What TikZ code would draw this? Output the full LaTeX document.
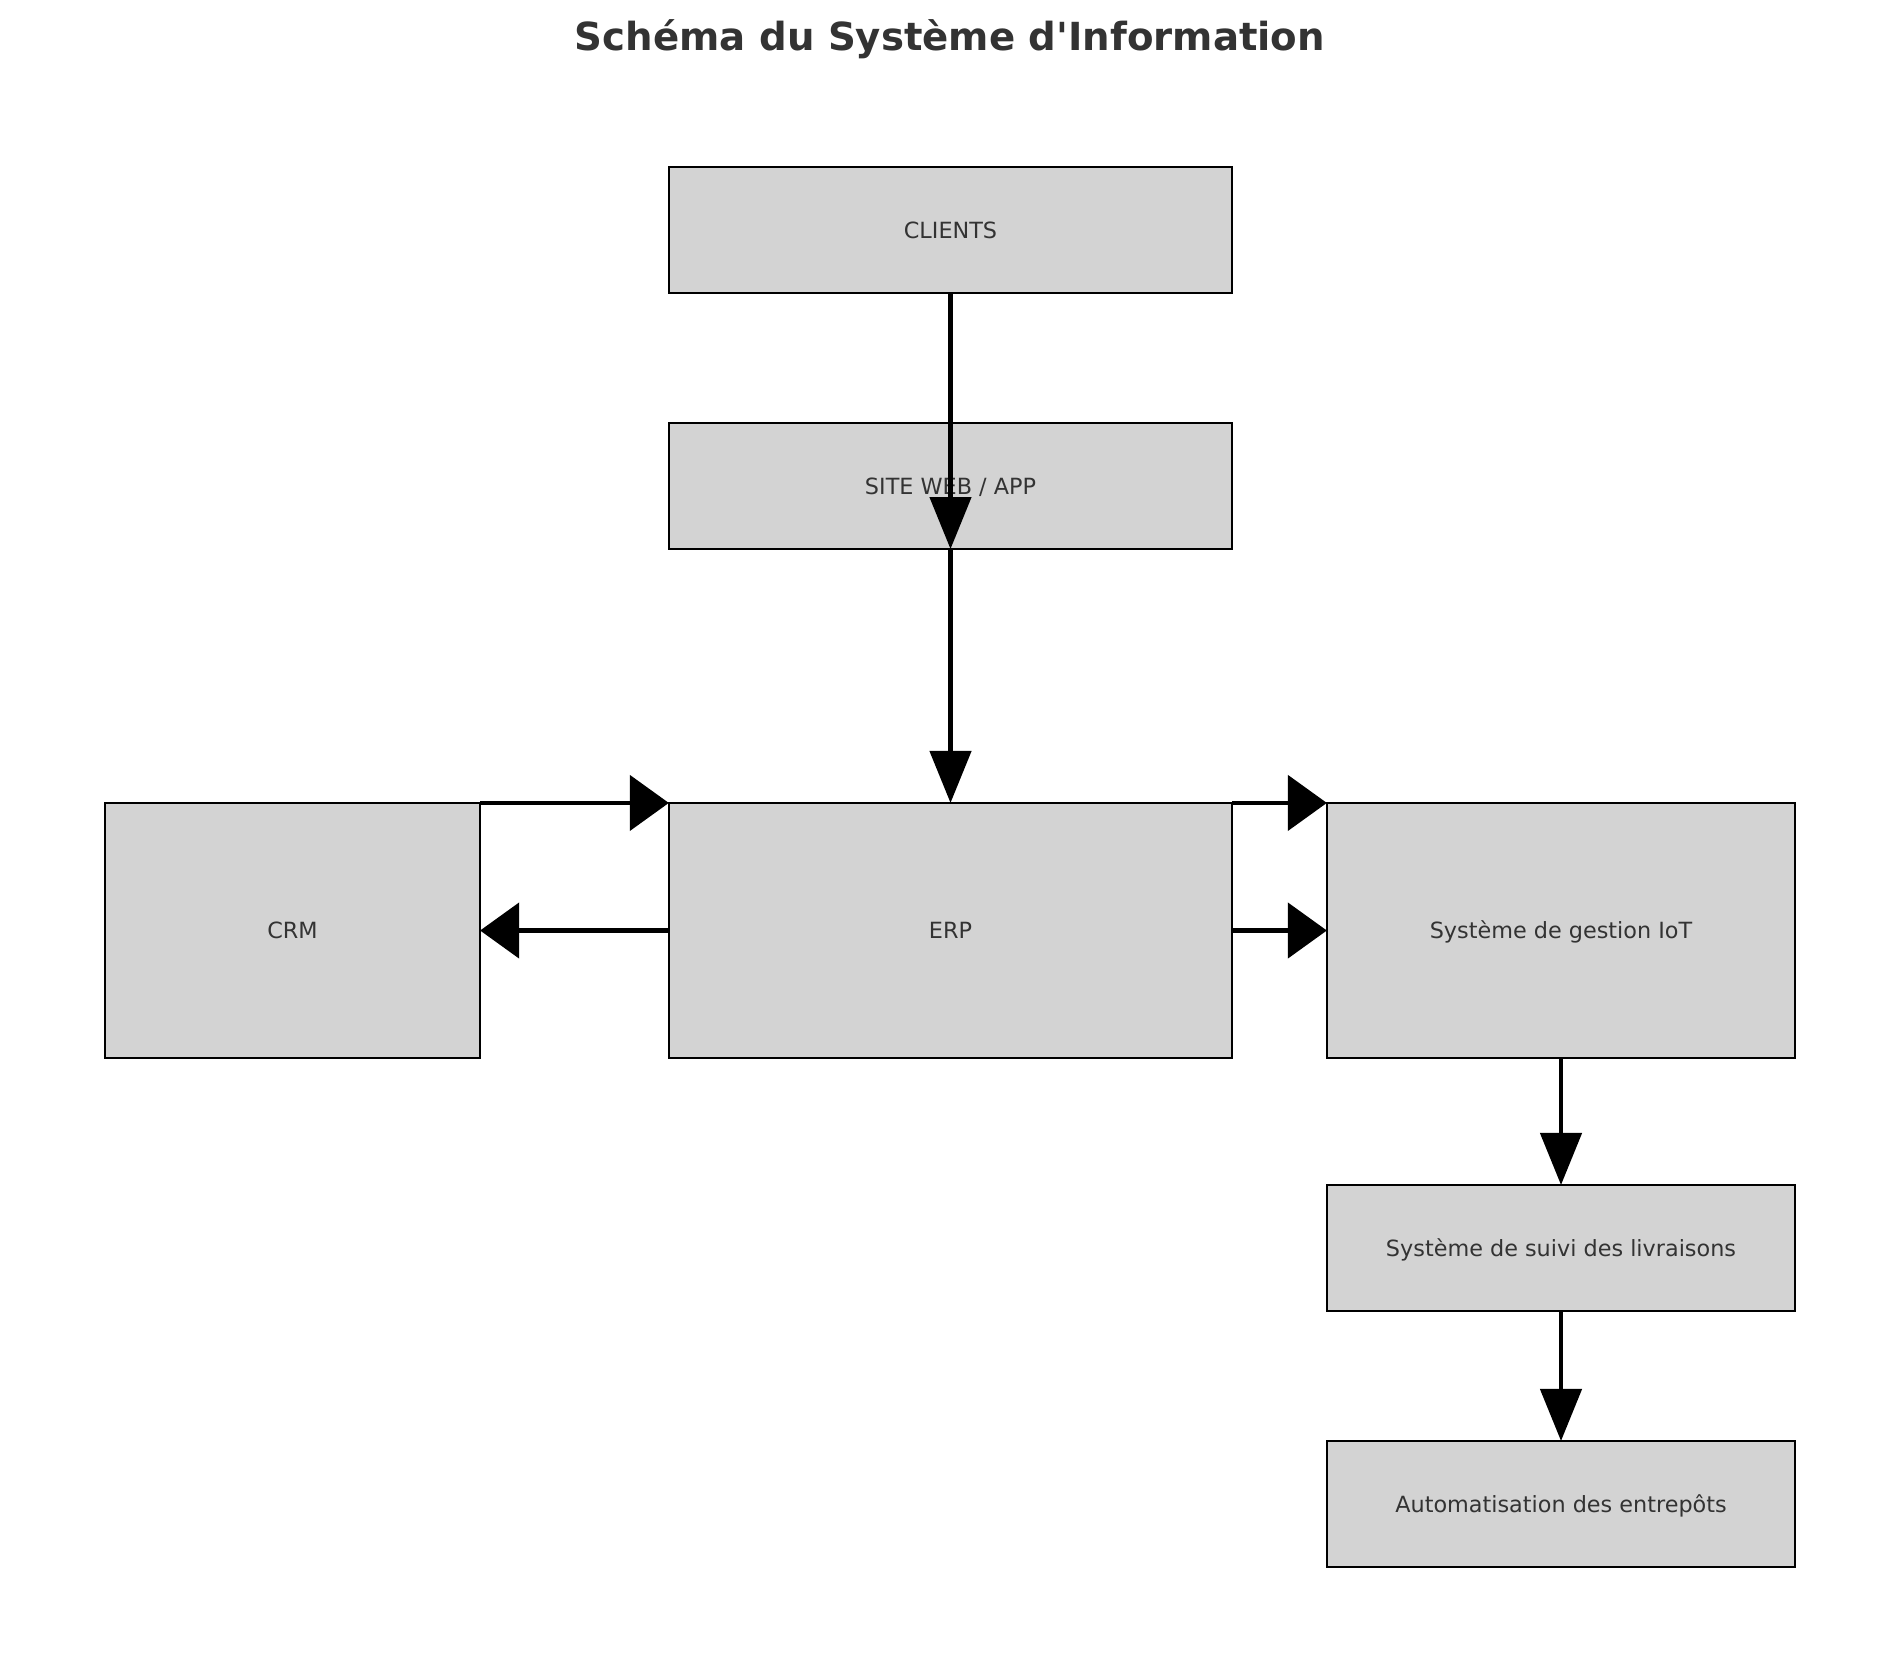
\documentclass[tikz,border=0pt]{standalone}
\usepackage{fontspec}
\setmainfont{DejaVu Sans}[Ligatures=TeXOff]
\usetikzlibrary{arrows.meta}
\definecolor{boxgray}{HTML}{D3D3D3}
\definecolor{txtgray}{HTML}{333333}
\tikzset{
 box/.style={draw=black,line width=0.75pt,fill=boxgray,text=txtgray,inner sep=0pt,outer sep=0pt,
  font=\fontsize{6.35}{7}\selectfont,text height=4.6pt,text depth=0pt},
 flowv/.style={line width=1.3pt,-{Triangle[length=0.52cm,width=0.41cm]}},
 flowh/.style={line width=1.3pt,-{Triangle[length=0.39cm,width=0.55cm]}}
}
\begin{document}
\begin{tikzpicture}[x=0.01cm,y=-0.01cm]
 \useasboundingbox (0,0) rectangle (1900,1657);
 \node[text=txtgray,font=\bfseries\fontsize{11}{13}\selectfont,anchor=base] (titre) at (950,50) {Schéma du Système d'Information};
 % boites
 \node[box,minimum width=5.63cm,minimum height=1.26cm] (clients) at (950.5,230) {CLIENTS};
 \node[box,minimum width=5.63cm,minimum height=1.26cm] (site) at (950.5,486) {SITE WEB / APP};
 \node[box,minimum width=3.75cm,minimum height=2.55cm] (crm) at (292.5,930.5) {CRM};
 \node[box,minimum width=5.63cm,minimum height=2.55cm] (erp) at (950.5,930.5) {ERP};
 \node[box,minimum width=4.68cm,minimum height=2.55cm] (iot) at (1561,930.5) {Système de gestion IoT};
 \node[box,minimum width=4.68cm,minimum height=1.26cm] (suivi) at (1561,1248) {Système de suivi des livraisons};
 \node[box,minimum width=4.68cm,minimum height=1.26cm] (auto) at (1561,1504) {Automatisation des entrepôts};
 % fleches
 \draw[flowv] (clients.south) -- (site.south);
 \draw[flowv] (site.south) -- (erp.north);
 \draw[flowh] (crm.north east) -- (erp.north west);
 \draw[flowh] (erp.west) -- (crm.east);
 \draw[flowh] (erp.north east) -- (iot.north west);
 \draw[flowh] (erp.east) -- (iot.west);
 \draw[flowv] (iot.south) -- (suivi.north);
 \draw[flowv] (suivi.south) -- (auto.north);
\end{tikzpicture}
\end{document}
